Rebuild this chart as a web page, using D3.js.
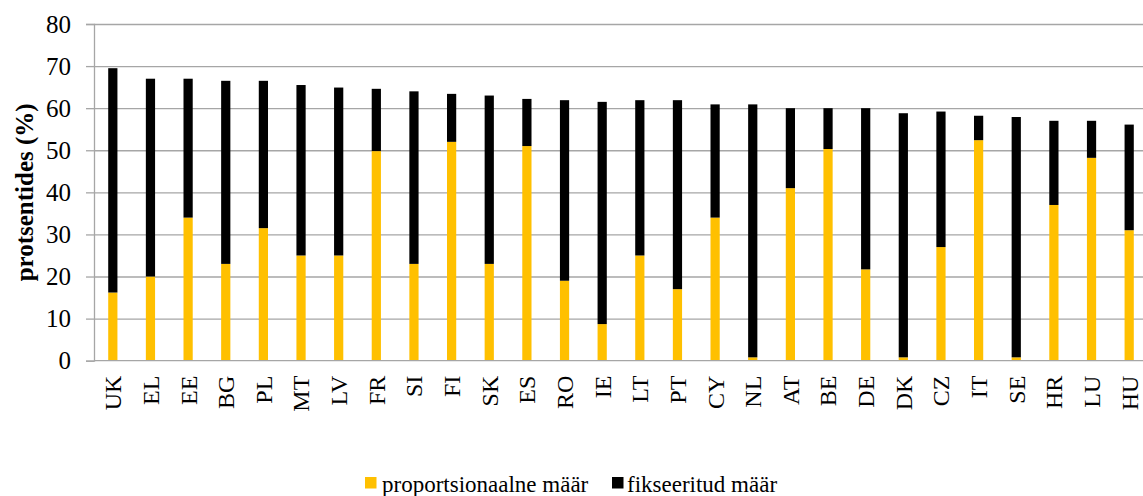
<!DOCTYPE html>
<html>
<head>
<meta charset="utf-8">
<script src="https://cdn.jsdelivr.net/npm/d3@7"></script>
<style>
  html, body { margin: 0; padding: 0; background: #fff; overflow: hidden; }
</style>
</head>
<body>
<svg id="chart" width="1143" height="496"></svg>
<script>
// Member states, ordered by total share
const countries = ["UK","EL","EE","BG","PL","MT","LV","FR","SI","FI","SK","ES","RO","IE",
                   "LT","PT","CY","NL","AT","BE","DE","DK","CZ","IT","SE","HR","LU","HU"];

// Proportional rate part (%)
const proportional = [16.2, 20, 34, 23, 31.5, 25, 25, 49.8, 23, 52, 23, 51, 19, 8.7,
                      25, 17, 34, 0.8, 41, 50.3, 21.7, 0.8, 27, 52.4, 0.8, 37, 48.2, 31];

// Fixed rate part (%), stacked on top
const fixed = [53.3, 47, 33, 43.5, 35, 40.5, 39.9, 14.8, 41, 11.4, 40, 11.2, 42.9, 52.8,
               36.9, 44.9, 26.9, 60.1, 19, 9.7, 38.3, 58, 32.2, 5.8, 57.1, 20, 8.8, 25.1];

const yTicks = [0, 10, 20, 30, 40, 50, 60, 70, 80];
const seriesNames = ["proportsionaalne määr", "fikseeritud määr"];
const seriesColors = ["#FFC000", "#000000"];

const FONT = "'Liberation Serif', 'Times New Roman', serif";
const svg = d3.select("#chart").attr("font-family", FONT);
const plotLeft = 94, plotRight = 1148, plotTop = 24, plotBottom = 360.7;

const x = d3.scaleBand().domain(countries).range([plotLeft, plotRight]);
const y = d3.scaleLinear().domain([0, 80]).range([plotBottom, plotTop]);
const barW = x.bandwidth() * 0.245;
const gridColor = "#a6a6a6";

// Horizontal gridlines with short outside ticks
const yAxis = d3.axisLeft(y).tickValues(yTicks).tickSize(8).tickPadding(15);
const gy = svg.append("g").attr("transform", `translate(${plotLeft},0)`).call(yAxis)
  .attr("font-family", FONT);
gy.select(".domain").attr("stroke", gridColor).attr("stroke-width", 1.3);
gy.selectAll(".tick line").attr("stroke", gridColor).attr("stroke-width", 1.3);
gy.selectAll(".tick text").attr("font-size", 25).attr("fill", "#000");
gy.selectAll(".tick").filter(d => d > 0).append("line")
  .attr("x1", 0).attr("x2", 1143 - plotLeft)
  .attr("stroke", gridColor).attr("stroke-width", 1.3);

// Stacked bars
const rows = countries.map((c, i) => ({ country: c, proportional: proportional[i], fixed: fixed[i] }));
const stacked = d3.stack().keys(["proportional", "fixed"])(rows);

svg.append("g").selectAll("g").data(stacked).join("g")
  .attr("fill", (d, i) => seriesColors[i])
  .selectAll("rect").data(d => d).join("rect")
  .attr("x", d => x(d.data.country) + (x.bandwidth() - barW) / 2)
  .attr("width", barW)
  .attr("y", d => y(d[1]))
  .attr("height", d => y(d[0]) - y(d[1]));

// Category axis
const xAxis = d3.axisBottom(x).tickSize(0).tickPadding(0);
const gx = svg.append("g").attr("transform", `translate(0,${plotBottom})`).call(xAxis)
  .attr("font-family", FONT);
gx.select(".domain").attr("stroke", gridColor).attr("stroke-width", 1.3)
  .attr("d", `M${plotLeft},0H1143`);
gx.selectAll(".tick text")
  .attr("font-size", 24).attr("fill", "#000")
  .attr("text-anchor", "end").attr("dy", "0.35em")
  .attr("transform", "translate(0,15) rotate(-90)")
  .attr("x", 0).attr("y", 0);

// Axis title
svg.append("text")
  .attr("transform", `translate(33,${(plotTop + plotBottom) / 2}) rotate(-90)`)
  .attr("text-anchor", "middle")
  .attr("font-family", FONT)
  .attr("font-size", 25).attr("font-weight", "bold")
  .text("protsentides (%)");

// Legend
const legendItems = [{ x: 365, tx: 382 }, { x: 612, tx: 627 }];
const lg = svg.append("g").attr("font-family", FONT);
legendItems.forEach((it, i) => {
  lg.append("rect").attr("x", it.x).attr("y", 477).attr("width", 11.5).attr("height", 11.5)
    .attr("fill", seriesColors[i]);
  lg.append("text").attr("x", it.tx).attr("y", 492).attr("font-size", 23)
    .text(seriesNames[i]);
});
</script>
</body>
</html>
